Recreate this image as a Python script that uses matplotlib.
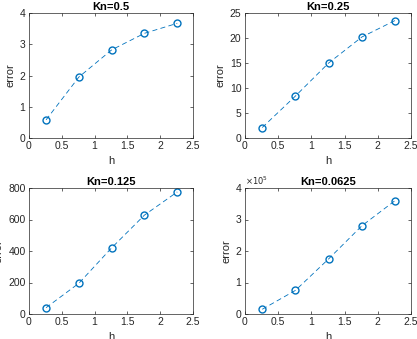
import numpy as np
import matplotlib
matplotlib.use('Agg')
import matplotlib.pyplot as plt

h = [0.26, 0.76, 1.26, 1.76, 2.26]
titles = ["Kn=0.5", "Kn=0.25", "Kn=0.125", "Kn=0.0625"]
err_05 = [0.58, 1.95, 2.82, 3.35, 3.67]
err_025 = [2.1, 8.4, 15.0, 20.2, 23.5]
err_0125 = [40, 195, 420, 628, 775]
err_00625 = [0.15e5, 0.75e5, 1.75e5, 2.8e5, 3.6e5]
ylims = [(0, 4), (0, 25), (0, 800), (0, 4e5)]
yticks = [[0, 1, 2, 3, 4], [0, 5, 10, 15, 20, 25], [0, 200, 400, 600, 800], [0, 1e5, 2e5, 3e5, 4e5]]

plt.rcParams['font.family'] = ['Liberation Sans', 'DejaVu Sans']
plt.rcParams['font.size'] = 7.5

W, H = 417, 339
fig = plt.figure(figsize=(W / 100, H / 100), dpi=100)

# axes boxes in pixels: left, right, top, bottom
boxes = [(29, 193, 13, 138), (245, 411, 13, 138), (29, 193, 188, 314), (245, 411, 188, 314)]
data = [err_05, err_025, err_0125, err_00625]
grey = '#262626'
blue = '#0072BD'

for i in range(4):
    l, r, t, b = boxes[i]
    ax = fig.add_axes([l / W, 1 - b / H, (r - l) / W, (b - t) / H])
    ax.plot(h, data[i], '--o', color=blue, lw=0.6, dashes=(6, 4),
            markersize=5, markerfacecolor='none', markeredgewidth=1.0)
    ax.set_xlim(0, 2.5)
    ax.set_ylim(*ylims[i])
    ax.set_xticks([0, 0.5, 1, 1.5, 2, 2.5])
    ax.set_xticklabels(['0', '0.5', '1', '1.5', '2', '2.5'])
    ax.set_yticks(yticks[i])
    if i == 3:
        ax.set_yticklabels(['0', '1', '2', '3', '4'])
        ax.text(0, 1.01, r'$\times 10^5$', transform=ax.transAxes, fontsize=6,
                color=grey, ha='left', va='bottom')
    ax.tick_params(direction='in', length=2.5, width=0.5, colors=grey,
                   top=True, right=True, pad=2.5)
    for s in ax.spines.values():
        s.set_linewidth(0.5)
        s.set_color(grey)
    ax.set_xlabel('h', color=grey, labelpad=3, fontsize=8)
    ax.set_ylabel('error', color=grey, labelpad=3, fontsize=8)
    ax.set_title(titles[i], fontweight='bold', fontsize=8, pad=2)

fig.savefig('out.png', dpi=100)
